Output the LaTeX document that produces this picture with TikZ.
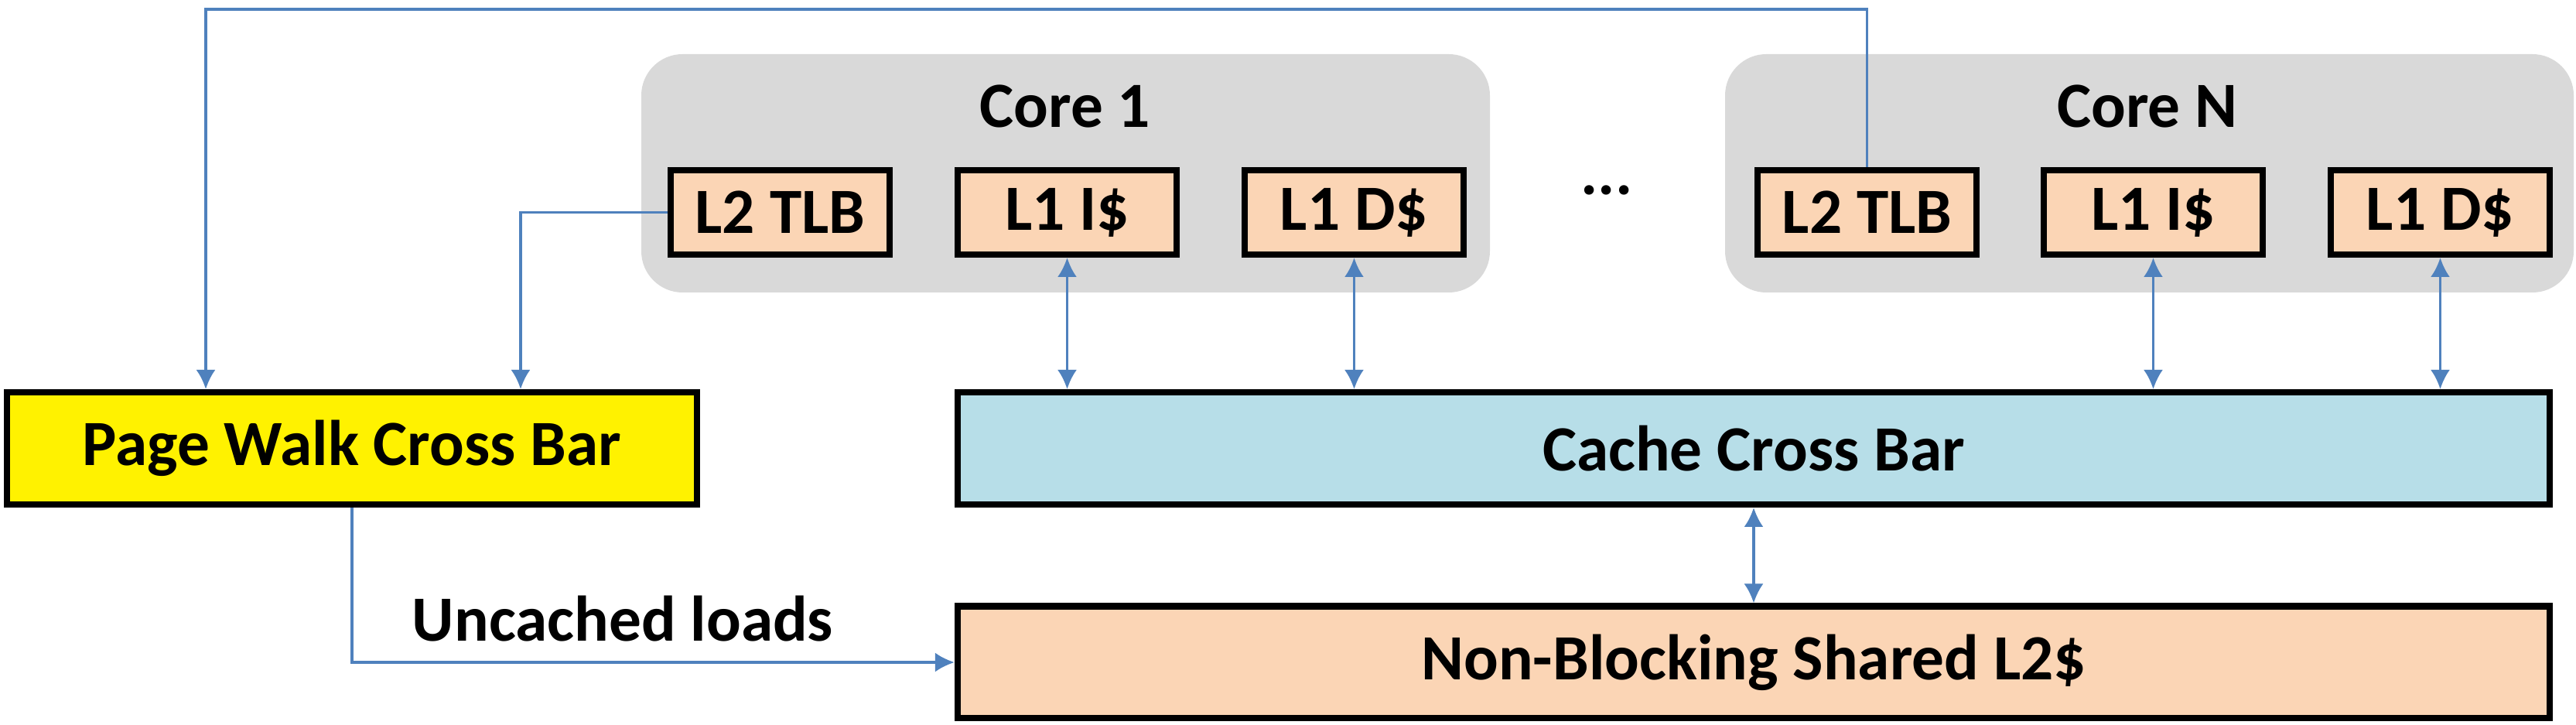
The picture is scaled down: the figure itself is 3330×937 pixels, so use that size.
\documentclass[tikz,border=0pt]{standalone}
\usepackage{fontspec}
\setmainfont{Carlito}
\usetikzlibrary{arrows.meta}
\definecolor{coregray}{HTML}{D9D9D9}
\definecolor{peach}{HTML}{FBD5B5}
\definecolor{lblue}{HTML}{B7DEE8}
\definecolor{lineblue}{HTML}{4F81BD}
\begin{document}
\begin{tikzpicture}[x=0.3pt,y=-0.3pt,
  every node/.style={font=\fontsize{25}{29}\selectfont\bfseries, inner sep=0pt},
  core/.style={fill=coregray, draw=none, rounded corners=16pt, minimum width=329.1pt, minimum height=92.4pt},
  unit/.style={fill=peach, draw=black, line width=2.5pt, minimum width=84.9pt, minimum height=32.6pt},
  bar/.style={draw=black, line width=2.5pt, minimum height=43.4pt},
  conn/.style={draw=lineblue, line width=1pt, -{Latex[length=7.5pt,width=7.5pt]}},
  biconn/.style={draw=lineblue, line width=1pt, {Latex[length=7.5pt,width=7.5pt]}-{Latex[length=7.5pt,width=7.5pt]}}]
\useasboundingbox (0,0) rectangle (3330,937);
% cores
\node[core] (core1) at (1377.5,224) {};
\node[core] (coreN) at (2778.5,224) {};
\node (t1) at (1377,137) {Core 1};
\node (tN) at (2776,137) {Core N};
\node (dots) at (2077,246) {...};
% units
\node[unit] (tlb1) at (1008.5,274.5) {L2 TLB};
\node[unit] (i1) at (1379.5,274.5) {L1 I\$};
\node[unit] (d1) at (1750.5,274.5) {L1 D\$};
\node[unit] (tlbN) at (2413.5,274.5) {L2 TLB};
\node[unit] (iN) at (2783.5,274.5) {L1 I\$};
\node[unit] (dN) at (3154.5,274.5) {L1 D\$};
% bars
\node[bar, fill=yellow, minimum width=267.6pt] (pw) at (455,579.5) {Page Walk Cross Bar};
\node[bar, fill=lblue, minimum width=617.4pt] (cache) at (2267,579.5) {Cache Cross Bar};
\node[bar, fill=peach, minimum width=617.4pt] (nb) at (2267,856) {Non-Blocking Shared L2\$};
\node (unc) at (805,800) {Uncached loads};
% connectors
\coordinate (tl) at (266,12);
\coordinate (mid) at (673,0);
\draw[conn] (tlbN.north) |- (tl) -- (tl |- pw.north);
\draw[conn] (tlb1.west) -| (mid |- pw.north);
\draw[conn] (pw.south) |- (nb.west);
\draw[biconn] (i1.south) -- (i1.south |- cache.north);
\draw[biconn] (d1.south) -- (d1.south |- cache.north);
\draw[biconn] (iN.south) -- (iN.south |- cache.north);
\draw[biconn] (dN.south) -- (dN.south |- cache.north);
\draw[biconn] (cache.south) -- (nb.north);
\end{tikzpicture}
\end{document}
